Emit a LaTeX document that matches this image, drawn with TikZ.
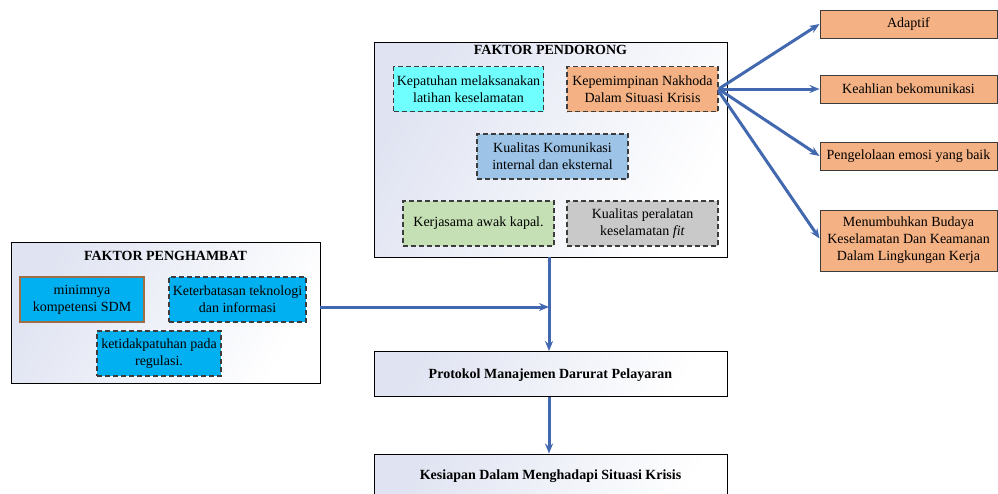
\documentclass[tikz,border=0pt]{standalone}
\usepackage{fontspec}
\setmainfont{Liberation Serif}
\usetikzlibrary{arrows.meta,calc}
\definecolor{arrowblue}{RGB}{66,104,176}
\definecolor{bgblue}{RGB}{224,228,242}
\definecolor{cyanfill}{RGB}{112,255,255}
\definecolor{orangefill}{RGB}{244,177,131}
\definecolor{bluefill}{RGB}{157,195,230}
\definecolor{greenfill}{RGB}{197,224,180}
\definecolor{grayfill}{RGB}{201,201,201}
\definecolor{skyfill}{RGB}{0,176,240}
\definecolor{borderdark}{RGB}{60,60,60}
\definecolor{brownborder}{RGB}{160,110,70}
\tikzset{
  panel/.style={draw=black, line width=0.9pt, left color=bgblue, right color=white, shading angle=60, inner sep=0pt},
  dbox/.style={draw=borderdark, dashed, dash pattern=on 5pt off 3pt, line width=1.1pt, inner sep=0pt, align=center, font=\fontsize{14}{17}\selectfont},
  rbox/.style={draw=borderdark, line width=0.9pt, fill=orangefill, inner sep=0pt, align=center, font=\fontsize{14}{17}\selectfont},
  conn/.style={draw=arrowblue, line width=3pt, -{Stealth[length=10pt,width=8pt]}},
  ttl/.style={font=\bfseries\fontsize{14}{17}\selectfont, inner sep=0pt},
}
\begin{document}
\begin{tikzpicture}[x=1pt,y=-1pt]
\useasboundingbox (0,0) rectangle (998,493);
% panels
\node[panel, minimum width=353pt, minimum height=215pt] (pend) at (550.5,149.5) {};
\node[ttl] (pendt) at (550.5,50) {FAKTOR PENDORONG};
\node[panel, minimum width=309pt, minimum height=141pt] (pengh) at (165.5,312.5) {};
\node[ttl] (pengt) at (165.5,256) {FAKTOR PENGHAMBAT};
\node[panel, minimum width=353pt, minimum height=45pt] (prot) at (550.5,374) {};
\node[ttl] (prott) at (550.5,375) {Protokol Manajemen Darurat Pelayaran};
\node[panel, minimum width=353pt, minimum height=60pt] (kes) at (550.5,484) {};
\node[ttl] (kest) at (550.5,476) {Kesiapan Dalam Menghadapi Situasi Krisis};
% pendorong boxes
\node[dbox, fill=cyanfill, minimum width=150pt, minimum height=45pt] (kep) at (468.5,89) {Kepatuhan melaksanakan\\latihan keselamatan};
\node[dbox, fill=orangefill, minimum width=151pt, minimum height=45pt] (lead) at (642.5,89) {Kepemimpinan Nakhoda\\Dalam Situasi Krisis};
\node[dbox, fill=bluefill, minimum width=151pt, minimum height=45pt] (kom) at (552.5,156.5) {Kualitas Komunikasi\\internal dan eksternal};
\node[dbox, fill=greenfill, minimum width=151pt, minimum height=45pt] (ker) at (478.5,223.5) {Kerjasama awak kapal.};
\node[dbox, fill=grayfill, minimum width=151pt, minimum height=45pt] (per) at (642.5,223.5) {Kualitas peralatan\\keselamatan \textit{fit}};
% penghambat boxes
\node[dbox, solid, draw=brownborder, fill=skyfill, minimum width=124pt, minimum height=45pt] (min) at (82,299.5) {minimnya\\kompetensi SDM};
\node[dbox, fill=skyfill, minimum width=137pt, minimum height=45pt] (tek) at (237.5,299.5) {Keterbatasan teknologi\\dan informasi};
\node[dbox, fill=skyfill, minimum width=124pt, minimum height=45pt] (reg) at (159,353.5) {ketidakpatuhan pada\\regulasi.};
% right boxes
\node[rbox, minimum width=177pt, minimum height=28pt] (ada) at (908.5,24) {Adaptif};
\node[rbox, minimum width=177pt, minimum height=28pt] (kea) at (908.5,89) {Keahlian bekomunikasi};
\node[rbox, minimum width=177pt, minimum height=28pt] (emo) at (908.5,156) {Pengelolaan emosi yang baik};
\node[rbox, minimum width=177pt, minimum height=61pt] (bud) at (908.5,240.5) {Menumbuhkan Budaya\\Keselamatan Dan Keamanan\\Dalam Lingkungan Kerja};
% connectors
\draw[conn] (lead.east) -- (ada.west);
\draw[conn] (lead.east) -- (kea.west);
\draw[conn] (lead.east) -- (emo.west);
\draw[conn] ($(lead.east)+(0,2)$) -- ($(bud.west)+(0,-2)$);
\coordinate (j) at (549,307);
\draw[conn] (pengh.east |- j) -- (j);
\draw[conn] (pend.south -| j) -- (prot.north -| j);
\draw[conn] (prot.south -| j) -- (kes.north -| j);
\end{tikzpicture}
\end{document}
